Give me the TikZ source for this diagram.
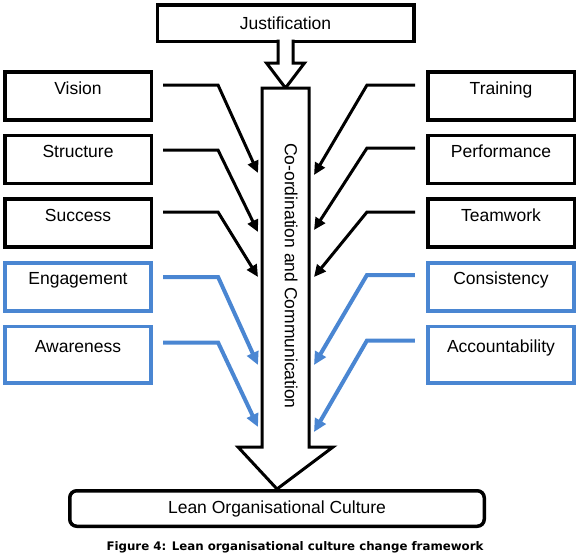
\documentclass[tikz,border=0pt]{standalone}
\usepackage{fontspec}
\setmainfont{Liberation Sans}
\newfontfamily\figcapfont{DejaVu Sans}
\usetikzlibrary{arrows.meta,positioning,calc}
\definecolor{CultBlue}{HTML}{4A86D2}
\newcommand{\boxfont}{\fontsize{17.5}{20}\selectfont}
\tikzset{
  catbox/.style={rectangle,draw=black,line width=3.5pt,minimum width=146.5pt,minimum height=48pt,inner sep=0pt,text height=12.5pt,text depth=16pt,font=\boxfont},
  bluebox/.style={catbox,draw=CultBlue,line width=3.8pt},
  topbox/.style={rectangle,draw=black,line width=3.5pt,minimum width=256.5pt,minimum height=36.5pt,inner sep=0pt,font=\boxfont},
  endbox/.style={rectangle,rounded corners=7pt,draw=black,line width=3.5pt,minimum width=414.5pt,minimum height=35.5pt,inner sep=0pt,font=\boxfont},
  blockarrow/.style={draw=black,line width=3pt,fill=white,line join=miter},
  link/.style={-{Triangle[length=12pt,width=11pt]},line width=3pt,color=black},
  linkb/.style={-{Triangle[length=13pt,width=12pt]},line width=4pt,color=CultBlue},
}

\begin{document}
\begin{tikzpicture}[x=1pt,y=-1pt,node distance=12pt]
  \useasboundingbox (0,0) rectangle (580,555);

  % Top and bottom
  \node[topbox] (just) at (285.5,23) {Justification};
  \node[endbox] (lean) at (277,508.5) {Lean Organisational Culture};
  \node[font=\figcapfont\bfseries\fontsize{11.8}{14}\selectfont] (cap) at (295,547) {Figure 4: Lean organisational culture change framework};

  % Central arrow
  \node[minimum width=47pt,minimum height=359pt,inner sep=0pt,outer sep=0pt] (shaft) at (285.5,267.5) {};
  \draw[blockarrow] ([xshift=-7.5pt,yshift=3.5pt]just.south) -- ++(0,23.5) -- ++(-11.5,0) -- (shaft.north) -- ([xshift=19pt,yshift=-20pt]just.south) -- ++(-11.5,0) -- ++(0,-23.5);
  \draw[blockarrow] (shaft.north west) -- (shaft.north east) -- (shaft.south east) -- ++(24,0) -- (lean.north) -- ([xshift=-24pt]shaft.south west) -- (shaft.south west) -- cycle;
  \node[rotate=-90,font=\boxfont] (coord) at (291,276) {Co-ordination and Communication};

  % Column 1: left factors
  \node[catbox] (vision) at (78,96) {Vision};
  \node[catbox, below=of vision] (structure) {Structure};
  \node[catbox, below=of structure] (success) {Success};
  \node[bluebox, below=of success] (engage) {Engagement};
  \node[bluebox, below=of engage, minimum height=56.5pt] (aware) {Awareness};

  % Column 2: right factors
  \node[catbox] (training) at (501,96) {Training};
  \node[catbox, below=of training] (perform) {Performance};
  \node[catbox, below=of perform] (teamwork) {Teamwork};
  \node[bluebox, below=of teamwork] (consist) {Consistency};
  \node[bluebox, below=of consist, minimum height=56.5pt] (account) {Accountability};

  % Entry points on the shaft
  \coordinate (tvision) at (258,173);
  \coordinate (tstructure) at (258,232);
  \coordinate (tsuccess) at (258,277);
  \coordinate (tengage) at (258,365);
  \coordinate (taware) at (258,427);
  \coordinate (ttraining) at (314,175);
  \coordinate (tperform) at (314,230);
  \coordinate (tteamwork) at (314,277);
  \coordinate (tconsist) at (314,365);
  \coordinate (taccount) at (314,432);

  % Arrows left -> shaft
  \draw[link] ([xshift=10pt,yshift=11pt]vision.east) -- ++(55,0) -- (tvision);
  \draw[link] ([xshift=10pt,yshift=9.5pt]structure.east) -- ++(55,0) -- (tstructure);
  \draw[link] ([xshift=10pt,yshift=11pt]success.east) -- ++(55,0) -- (tsuccess);
  \draw[linkb] ([xshift=10pt,yshift=9.5pt]engage.east) -- ++(55,0) -- (tengage);
  \draw[linkb] ([xshift=10pt,yshift=12pt]aware.east) -- ++(55,0) -- (taware);

  % Arrows right -> shaft
  \draw[link] ([xshift=-11pt,yshift=11pt]training.west) -- ++(-48,0) -- (ttraining);
  \draw[link] ([xshift=-11pt,yshift=11.5pt]perform.west) -- ++(-48,0) -- (tperform);
  \draw[link] ([xshift=-11pt,yshift=11pt]teamwork.west) -- ++(-48,0) -- (tteamwork);
  \draw[linkb] ([xshift=-11pt,yshift=11.5pt]consist.west) -- ++(-48,0) -- (tconsist);
  \draw[linkb] ([xshift=-11pt,yshift=14pt]account.west) -- ++(-48,0) -- (taccount);
\end{tikzpicture}
\end{document}
